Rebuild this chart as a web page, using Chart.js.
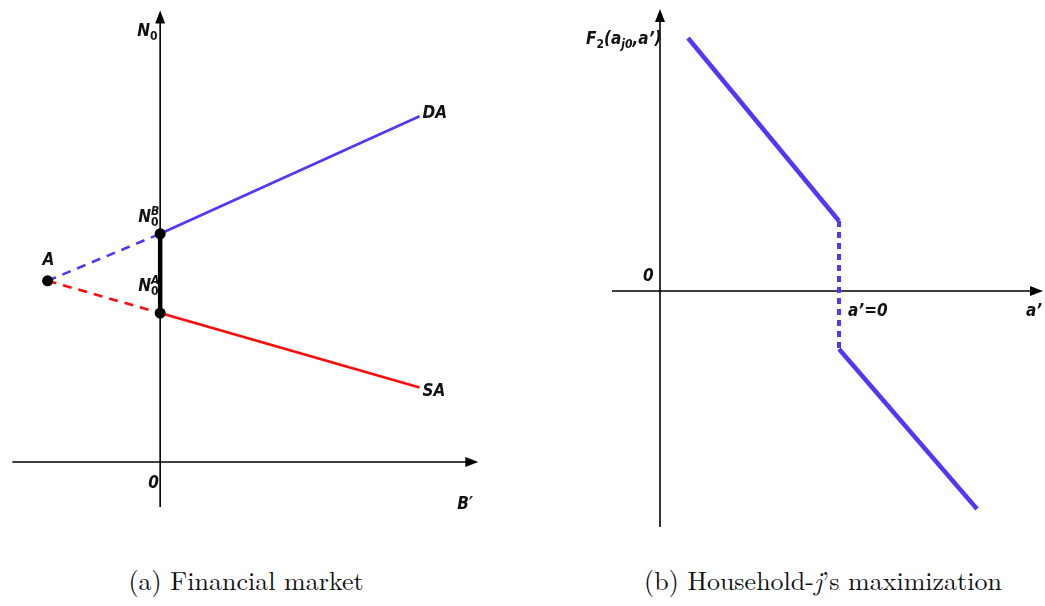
<!DOCTYPE html>
<html>
<head>
<meta charset="utf-8">
<script src="https://cdn.jsdelivr.net/npm/chart.js@4/dist/chart.umd.min.js"></script>
<style>
  html, body { margin:0; padding:0; background:#fff; }
  body { width:1045px; height:606px; position:relative; overflow:hidden; }
  canvas { position:absolute; top:0; }
  #c1 { left:0; }
  #c2 { left:520px; }
  .lbl { position:absolute; font-family:"Liberation Sans Narrow","DejaVu Sans Condensed","Open Sans",sans-serif; font-weight:bold; font-style:italic; font-size:17px; color:#111; white-space:nowrap; line-height:1; }
  .up { font-style:normal; }
  .ss { display:inline-block; vertical-align:middle; line-height:0.9; font-size:12px; text-align:left; }
  .ss span { display:block; }
  sub { font-size:12px; vertical-align:-4px; line-height:0; }
  .cap { position:absolute; top:567px; font-family:"Latin Modern Roman","DejaVu Serif","Liberation Serif",serif; font-size:26px; line-height:1; color:#111; white-space:nowrap; transform:translateX(-50%); }
  .cap i { font-style:italic; }
</style>
</head>
<body>
<canvas id="c1" width="520" height="540"></canvas>
<canvas id="c2" width="525" height="540"></canvas>
<div class="cap" style="left:246px">(a) Financial market</div>
<div class="cap" style="left:823px">(b) Household-<i>j</i>’s maximization</div>
<script>
// ---------- Panel (a): Financial market ----------
const pointA   = [{x:-11.5, y:18.5}];
const pointNB  = [{x:0, y:23.3}];
const pointNA  = [{x:0, y:15.2}];
const daSolid  = [{x:0, y:23.3}, {x:26.5, y:35.3}];
const daDashed = [{x:-11.5, y:18.5}, {x:0, y:23.3}];
const saSolid  = [{x:0, y:15.2}, {x:26.5, y:7.6}];
const saDashed = [{x:-11.5, y:18.5}, {x:0, y:15.2}];
const gapSeg   = [{x:0, y:23.3}, {x:0, y:15.2}];
const axisA_x  = [-15.1, 32.5];
const axisA_y  = [-4.6, 46.1];

// ---------- Panel (b): Household-j's maximization ----------
const upperSeg  = [{x:2.8, y:25.3}, {x:17.9, y:7.0}];
const jumpSeg   = [{x:17.9, y:7.0}, {x:17.9, y:-5.8}];
const lowerSeg  = [{x:17.9, y:-5.8}, {x:31.7, y:-21.8}];
const axisB_x   = [-4.8, 38.3];
const axisB_y   = [-23.6, 28.2];

const BLUE = '#5536f5';
const RED  = '#ff0a0a';

function axesPlugin(xr, yr) {
  return {
    id: 'axes',
    beforeDatasetsDraw(chart) {
      const {ctx, scales:{x, y}} = chart;
      const ox = x.getPixelForValue(0), oy = y.getPixelForValue(0);
      const x0 = x.getPixelForValue(xr[0]), x1 = x.getPixelForValue(xr[1]);
      const y0 = y.getPixelForValue(yr[0]), y1 = y.getPixelForValue(yr[1]);
      ctx.save();
      ctx.strokeStyle = '#000'; ctx.fillStyle = '#000'; ctx.lineWidth = 1.6;
      ctx.beginPath(); ctx.moveTo(x0, oy); ctx.lineTo(x1 - 8, oy); ctx.stroke();
      ctx.beginPath(); ctx.moveTo(ox, y0); ctx.lineTo(ox, y1 + 8); ctx.stroke();
      ctx.beginPath(); ctx.moveTo(x1, oy); ctx.lineTo(x1 - 13, oy - 5); ctx.lineTo(x1 - 13, oy + 5); ctx.closePath(); ctx.fill();
      ctx.beginPath(); ctx.moveTo(ox, y1); ctx.lineTo(ox - 5, y1 + 13); ctx.lineTo(ox + 5, y1 + 13); ctx.closePath(); ctx.fill();
      ctx.restore();
    }
  };
}

function line(data, color, width, dash) {
  return { type:'line', data, borderColor:color, borderWidth:width, borderDash:dash || [],
           pointRadius:0, fill:false, tension:0, borderCapStyle:'butt', order:2 };
}
function dot(data) {
  return { type:'scatter', data, backgroundColor:'#000', borderColor:'#000', borderWidth:0,
           pointRadius:5.5, pointHoverRadius:5.5, order:0 };
}
function baseOptions(xmin, xmax, ymin, ymax) {
  return {
    responsive:false, animation:false, events:[],
    layout:{ padding:0 },
    plugins:{ legend:{display:false}, tooltip:{enabled:false} },
    scales:{
      x:{ type:'linear', min:xmin, max:xmax, display:false },
      y:{ type:'linear', min:ymin, max:ymax, display:false }
    }
  };
}

const chartA = new Chart(document.getElementById('c1'), {
  type:'line',
  data:{ datasets:[
    dot(pointA), dot(pointNB), dot(pointNA),
    Object.assign(line(gapSeg, '#000', 4.5), {order:1}),
    line(daDashed, BLUE, 2.6, [9, 7]),
    line(saDashed, RED, 2.6, [9, 7]),
    line(daSolid, BLUE, 2.6),
    line(saSolid, RED, 2.6)
  ]},
  options: baseOptions(-15.8, 36.2, -7.4, 46.6),
  plugins:[axesPlugin(axisA_x, axisA_y)]
});

const chartB = new Chart(document.getElementById('c2'), {
  type:'line',
  data:{ datasets:[
    line(upperSeg, BLUE, 4.5),
    line(jumpSeg, BLUE, 4, [6, 5]),
    line(lowerSeg, BLUE, 4.5)
  ]},
  options: baseOptions(-14, 38.5, -24.9, 29.1),
  plugins:[axesPlugin(axisB_x, axisB_y)]
});

// ---------- Text labels placed through the scales ----------
function place(chart, offsetLeft, vx, vy, html, dx, dy) {
  const px = chart.scales.x.getPixelForValue(vx) + offsetLeft;
  const py = chart.scales.y.getPixelForValue(vy);
  const d = document.createElement('div');
  d.className = 'lbl';
  d.innerHTML = html;
  d.style.left = (px + dx) + 'px';
  d.style.top = (py + dy) + 'px';
  document.body.appendChild(d);
}
const ssNB = 'N<span class="ss"><span>B</span><span class="up">0</span></span>';
const ssNA = 'N<span class="ss"><span>A</span><span class="up">0</span></span>';

place(chartA, 0, 0, axisA_y[1], 'N<sub class="up">0</sub>', -23, 12);
place(chartA, 0, 26.5, 35.3, 'DA', 3, -12);
place(chartA, 0, 26.5, 7.6, 'SA', 3, -6);
place(chartA, 0, pointA[0].x, pointA[0].y, 'A', -5, -30);
place(chartA, 0, 0, 23.3, ssNB, -22, -28);
place(chartA, 0, 0, 15.2, ssNA, -22, -38);
place(chartA, 0, 0, 0, '0', -12, 12);
place(chartA, 0, axisA_x[1], 0, 'B′', -21, 33);

place(chartB, 520, 0, axisB_y[1], 'F<sub class="up">2</sub>(a<sub>j0</sub>,a’)', -74, 21);
place(chartB, 520, 0, 0, '0', -17, -24);
place(chartB, 520, 17.9, 0, 'a’=0', 9, 11);
place(chartB, 520, axisB_x[1], 0, 'a’', -17, 11);
</script>
</body>
</html>
